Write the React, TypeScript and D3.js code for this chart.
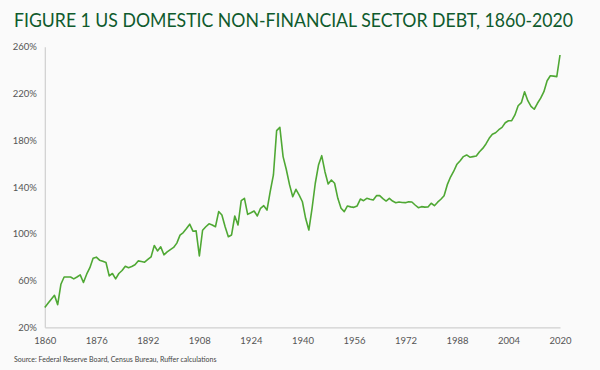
import React, { useEffect, useRef } from "react";
import * as d3 from "d3";

// debt as % of GDP, one value per year starting at firstYear
const firstYear = 1860;
const debtRatio = [
  37, 40.5, 44, 47.4, 39.4, 56.8, 63, 63, 63, 61.4,
  63, 64.8, 58.3, 65.4, 71, 79, 80, 77.4, 76.5, 75.4,
  64, 66, 61.4, 66, 68.6, 72.2, 71, 72, 73.5, 76.8,
  76.3, 75.7, 78, 80.2, 90, 85.3, 88.8, 82, 84.5, 86.5,
  88.3, 92, 98.8, 101, 104.5, 108.2, 102.2, 102.5, 81, 103,
  106, 108.5, 107.5, 106, 119, 116, 106, 97.5, 99, 115.2,
  107.5, 128.3, 130.3, 116.6, 118, 119.5, 115.2, 121.8, 124, 120.3,
  136, 150.3, 188.2, 191, 166, 155, 142, 131.7, 138, 133,
  127.4, 113.2, 103.2, 121.8, 143.2, 158.8, 166.8, 153.1, 142.6, 146,
  143.2, 130.3, 121.8, 118.9, 123.8, 123, 122.6, 123.8, 129.7, 128.3,
  130.3, 129.5, 128.9, 132.6, 132.6, 130, 128, 130.3, 128, 126.6,
  127.2, 126.8, 126.6, 127.4, 127.2, 124.6, 122.3, 123.2, 122.8, 122.9,
  126.1, 124, 127, 129.5, 132.5, 142, 148.5, 153.5, 159.5, 162.5,
  166, 167.4, 165.5, 166, 166.5, 170.2, 173, 176.8, 181.6, 185.1,
  186.4, 189, 191, 195, 196.7, 196.7, 201.6, 209.5, 212.1, 221.5,
  213.8, 209, 206.5, 211.6, 216, 221.5, 230.9, 235.2, 234.8, 234.4,
  252.9,
];

const xTickYears = [1860, 1876, 1892, 1908, 1924, 1940, 1956, 1972, 1988, 2004, 2020];
const yTickValues = [20, 60, 100, 140, 180, 220, 260];

const titleText = "FIGURE 1 US DOMESTIC NON-FINANCIAL SECTOR DEBT, 1860-2020";
const sourceText = "Source: Federal Reserve Board, Census Bureau, Ruffer calculations";

const font = "Lato, 'Open Sans', sans-serif";

export default function App() {
  const svgRef = useRef<SVGSVGElement>(null);

  useEffect(() => {
    const width = 600,
      height = 370;
    const left = 44.8,
      right = 560,
      top = 46.7,
      bottom = 327.3;

    const svg = d3.select(svgRef.current);
    svg.selectAll("*").remove();

    svg.append("rect")
      .attr("width", width)
      .attr("height", height)
      .attr("fill", "#fafafa");

    // title
    svg.append("text")
      .attr("x", 14)
      .attr("y", 27)
      .attr("font-family", font)
      .attr("font-size", 18.5)
      .attr("fill", "#0f5a2d")
      .attr("textLength", 559)
      .attr("lengthAdjust", "spacingAndGlyphs")
      .text(titleText);

    const x = d3.scaleLinear().domain([1860, 2020]).range([left, right]);
    const y = d3.scaleLinear().domain([20, 260]).range([bottom, top]);

    // y axis
    const yAxis = svg.append("g")
      .attr("transform", "translate(" + left + ",0)")
      .call(
        d3.axisLeft(y)
          .tickValues(yTickValues)
          .tickSize(0)
          .tickPadding(8)
          .tickFormat((d) => d + "%")
      );

    // x axis
    const xAxis = svg.append("g")
      .attr("transform", "translate(0," + bottom + ")")
      .call(
        d3.axisBottom(x)
          .tickValues(xTickYears)
          .tickSize(0)
          .tickPadding(10)
          .tickFormat((d) => String(d))
      );

    [yAxis, xAxis].forEach((g) => {
      g.select(".domain").attr("stroke", "#cfcfcf").attr("stroke-width", 1.2);
      g.selectAll("text")
        .attr("font-family", font)
        .attr("font-size", 9.5)
        .attr("fill", "#555");
    });

    // debt line
    const line = d3.line<number>()
      .x((d, i) => x(firstYear + i))
      .y((d) => y(d));

    svg.append("path")
      .datum(debtRatio)
      .attr("d", line)
      .attr("fill", "none")
      .attr("stroke", "#4fa834")
      .attr("stroke-width", 1.6)
      .attr("stroke-linejoin", "round");

    // source note
    svg.append("text")
      .attr("x", 14)
      .attr("y", 362)
      .attr("font-family", font)
      .attr("font-size", 7)
      .attr("fill", "#444")
      .text(sourceText);
  }, []);

  return (
    <svg
      ref={svgRef}
      width={600}
      height={370}
      style={{ position: "absolute", left: 0, top: 0 }}
    />
  );
}
